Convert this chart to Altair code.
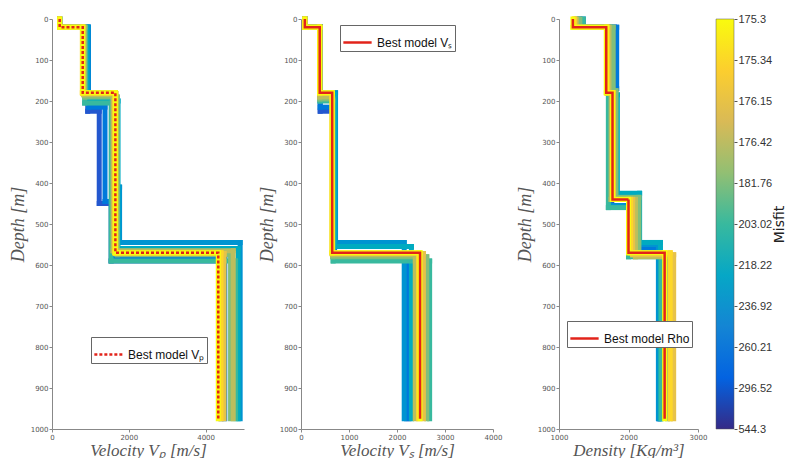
import altair as alt
import pandas as pd

# ---------------- data ----------------
MISFIT_LABELS = [175.3, 175.34, 176.15, 176.42, 181.76, 203.02, 218.22, 236.92, 260.21, 296.52, 544.3]
# models, worst first (drawn first), best last
MODEL_MISFITS = [296.52, 260.21, 236.92, 218.22, 203.02, 181.76, 176.42, 176.15, 175.34, 175.3]
BOTTOM_DEPTH = 975
DEPTH_TICKS = list(range(0, 1001, 100))

VP_DEPTHS = [
    [20, 225, 450, 590],
    [20, 215, 445, 585],
    [20, 180, 410, 545],
    [20, 200, 560],
    [20, 205, 590],
    [20, 190, 575],
    [20, 185, 565],
    [20, 182, 572],
    [20, 180, 570],
    [20, 180, 570],
]
VP_VALUES = [
    [200, 930, 1230, 1540, 4400],
    [200, 950, 1380, 1560, 4500],
    [200, 940, 1640, 1760, 4900],
    [200, 900, 1720, 4850],
    [200, 850, 1540, 4780],
    [200, 860, 1700, 4650],
    [200, 830, 1590, 4720],
    [200, 810, 1665, 4480],
    [200, 790, 1635, 4400],
    [200, 800, 1650, 4330],
]

VS_DEPTHS = [
    [20, 225, 585],
    [20, 215, 580],
    [20, 180, 545],
    [20, 185, 555],
    [20, 200, 590],
    [20, 195, 580],
    [20, 190, 575],
    [20, 182, 572],
    [20, 180, 570],
    [20, 180, 570],
]
VS_VALUES = [
    [80, 400, 680, 2250],
    [80, 400, 700, 2200],
    [80, 405, 720, 2150],
    [80, 395, 700, 2300],
    [80, 395, 670, 2680],
    [80, 390, 660, 2620],
    [80, 385, 655, 2380],
    [80, 395, 650, 2550],
    [80, 390, 645, 2450],
    [80, 390, 650, 2480],
]

RHO_DEPTHS = [
    [20, 170, 455, 560],
    [20, 170, 430, 560],
    [20, 180, 455, 550],
    [20, 185, 425, 545],
    [20, 180, 460, 580],
    [20, 175, 435, 575],
    [20, 180, 440, 580],
    [20, 180, 440, 575],
    [20, 180, 440, 570],
    [20, 180, 440, 570],
]
RHO_VALUES = [
    [1300, 1800, 1760, 2150, 2440],
    [1350, 1830, 1800, 2100, 2450],
    [1250, 1700, 1720, 2050, 2430],
    [1300, 1750, 1840, 2160, 2460],
    [1350, 1720, 1710, 2000, 2470],
    [1300, 1780, 1820, 2150, 2560],
    [1250, 1720, 1750, 2100, 2600],
    [1230, 1700, 1785, 2060, 2650],
    [1220, 1690, 1775, 2030, 2600],
    [1200, 1680, 1770, 2000, 2520],
]

# ---------------- style ----------------
PARULA = ["#352a87", "#0363e1", "#1485d4", "#06a7c6", "#38b99e",
          "#92bf73", "#d9ba56", "#fcce2e", "#f9fb0e"]
RED = "#e2231a"
PANEL_H = 410


def segments(depths, values):
    rows = []
    k = 0
    for m, (ds, vs) in enumerate(zip(depths, values)):
        level = 10 - MISFIT_LABELS.index(MODEL_MISFITS[m])
        tops = [0] + ds
        bots = ds + [BOTTOM_DEPTH]
        for i, v in enumerate(vs):
            rows.append(dict(x=v, x2=v, y=tops[i], y2=bots[i], level=level, k=k))
            k += 1
            if i + 1 < len(vs):
                rows.append(dict(x=v, x2=vs[i + 1], y=bots[i], y2=bots[i], level=level, k=k))
                k += 1
    return pd.DataFrame(rows)


def best_path(depths, values, label):
    rows = []
    tops = [0] + depths
    bots = depths + [BOTTOM_DEPTH]
    for i, v in enumerate(values):
        rows.append(dict(x=v, y=tops[i], name=label, k=2 * i))
        rows.append(dict(x=v, y=bots[i], name=label, k=2 * i + 1))
    return pd.DataFrame(rows)


color_scale = alt.Scale(domain=[i * 1.25 for i in range(9)], range=PARULA)


def panel(depths, values, xdomain, xvalues, xtitle, width, label, dash, lx, ly):
    seg = segments(depths, values)
    bp = best_path(depths[-1], values[-1], label)
    xs = alt.Scale(domain=xdomain, nice=False, zero=False)
    ys = alt.Scale(domain=[0, 1000], reverse=True, nice=False)
    rules = alt.Chart(seg).mark_rule(strokeWidth=5, strokeCap="square").encode(
        x=alt.X("x:Q", scale=xs, axis=alt.Axis(values=xvalues, title=xtitle,
                                               labelFlush=False, labelOverlap=False,
                                               format="d")),
        x2="x2:Q",
        y=alt.Y("y:Q", scale=ys, axis=alt.Axis(values=DEPTH_TICKS, title="Depth [m]",
                                               labelOverlap=False, format="d")),
        y2="y2:Q",
        color=alt.Color("level:Q", scale=color_scale, legend=None),
        order=alt.Order("k:Q"),
    )
    best = alt.Chart(bp).mark_line(color=RED, strokeWidth=2.5).encode(
        x=alt.X("x:Q", scale=xs),
        y=alt.Y("y:Q", scale=ys),
        order=alt.Order("k:Q"),
        strokeDash=alt.StrokeDash(
            "name:N",
            scale=alt.Scale(domain=[label], range=[dash]),
            legend=alt.Legend(
                orient="none", legendX=lx, legendY=ly, title=None,
                fillColor="white", strokeColor="#666", padding=2,
                symbolType="stroke", symbolStrokeColor=RED, symbolStrokeWidth=2.5,
                symbolSize=800, labelFont="Liberation Sans", labelFontSize=12,
                labelColor="#111", cornerRadius=0,
            ),
        ),
    )
    return alt.layer(rules, best).properties(width=width, height=PANEL_H)


p1 = panel(VP_DEPTHS, VP_VALUES, [0, 5000], list(range(0, 5001, 1000)),
           "Velocity Vₚ [m/s]", 192, "Best model Vₚ", [3, 2], 39, 318)
p2 = panel(VS_DEPTHS, VS_VALUES, [0, 4000], list(range(0, 4001, 1000)),
           "Velocity Vₛ [m/s]", 192, "Best model Vₛ", [1, 0], 39, 6)
p3 = panel(RHO_DEPTHS, RHO_VALUES, [1000, 3000], list(range(1000, 3001, 500)),
           "Density [Kg/m³]", 139, "Best model Rho", [1, 0], 8, 302)

# colorbar
label_list = list(reversed(MISFIT_LABELS))  # index 0 at bottom
label_expr = "[" + ",".join("'%s'" % str(v) for v in label_list) + "][datum.value]"
cb_df = pd.DataFrame({"lo": [0], "hi": [10]})
gradient = alt.Gradient(
    gradient="linear",
    stops=[alt.GradientStop(offset=i / 8, color=c) for i, c in enumerate(PARULA)],
    x1=0, x2=0, y1=1, y2=0,
)
cbar = alt.Chart(cb_df).mark_rect(fill=gradient, stroke="#555", strokeWidth=0.5).encode(
    y=alt.Y("lo:Q", scale=alt.Scale(domain=[0, 10], nice=False),
            axis=alt.Axis(orient="right", values=list(range(11)), labelExpr=label_expr,
                          title="Misfit", titleAngle=270, titleBaseline="top",
                          titleFont="DejaVu Sans",
                          titleFontStyle="normal", titleFontSize=14, titleColor="#222",
                          titlePadding=1, labelFont="Liberation Sans", labelFontSize=11,
                          labelPadding=1, labelColor="#333", domain=False, tickSize=3,
                          tickColor="#555", labelOverlap=False)),
    y2="hi:Q",
).properties(width=18, height=PANEL_H)

panels = alt.hconcat(p1, p2, p3, spacing=14).resolve_scale(
    strokeDash="independent"
).resolve_legend(strokeDash="independent")
chart = alt.hconcat(panels, cbar, spacing=8).resolve_scale(
    strokeDash="independent"
).resolve_legend(strokeDash="independent").configure_view(stroke=None).configure_axis(
    grid=False, domainColor="#888", tickColor="#888", labelColor="#555",
    labelFontSize=7, labelFont="DejaVu Sans", tickSize=3, labelPadding=1,
    titleFont="Liberation Serif", titleFontStyle="italic", titleFontWeight="normal",
    titleFontSize=18, titleColor="#555",
).configure_axisY(titlePadding=3).configure_axisX(titlePadding=2, titleFontSize=17).properties(
    padding={"left": 1, "top": 5, "right": 0, "bottom": 0}
)

chart.save("out.html", embed_options={"renderer": "svg", "actions": False})
